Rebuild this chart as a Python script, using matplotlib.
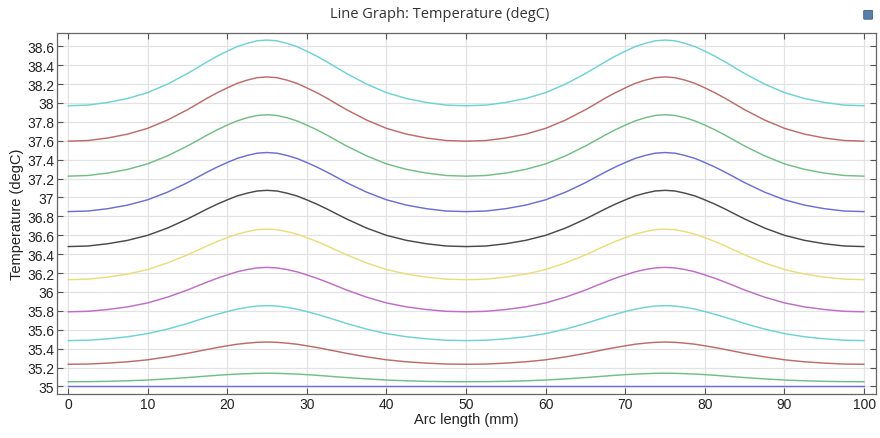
import matplotlib
matplotlib.use("Agg")
import matplotlib.pyplot as plt
from matplotlib.ticker import FuncFormatter, MultipleLocator
from matplotlib.patches import FancyBboxPatch

# Arc length positions (mm)
arc_length = [0, 2.5, 5, 7.5, 10, 12.5, 15, 16.25, 17.5, 18.75, 20, 21.25, 22.5, 23.75, 25,
              26.25, 27.5, 28.75, 30, 31.25, 32.5, 33.75, 35, 37.5, 40, 42.5, 45, 47.5, 50,
              52.5, 55, 57.5, 60, 62.5, 65, 66.25, 67.5, 68.75, 70, 71.25, 72.5, 73.75, 75,
              76.25, 77.5, 78.75, 80, 81.25, 82.5, 83.75, 85, 87.5, 90, 92.5, 95, 97.5, 100]

# Temperature profiles (degC), bottom to top
temp_1 = [35.000] * 57
temp_2 = [35.050, 35.051, 35.054, 35.060, 35.068, 35.080, 35.094, 35.102, 35.110, 35.118, 35.125, 35.131, 35.135, 35.139, 35.140,
          35.139, 35.135, 35.131, 35.125, 35.118, 35.110, 35.102, 35.094, 35.080, 35.068, 35.060, 35.054, 35.051, 35.050,
          35.051, 35.054, 35.060, 35.068, 35.080, 35.094, 35.102, 35.110, 35.118, 35.125, 35.131, 35.135, 35.139, 35.140,
          35.139, 35.135, 35.131, 35.125, 35.118, 35.110, 35.102, 35.094, 35.080, 35.068, 35.060, 35.054, 35.051, 35.050]
temp_3 = [35.235, 35.237, 35.247, 35.261, 35.282, 35.313, 35.350, 35.371, 35.392, 35.412, 35.430, 35.447, 35.458, 35.467, 35.470,
          35.467, 35.458, 35.447, 35.430, 35.412, 35.392, 35.371, 35.350, 35.313, 35.282, 35.261, 35.247, 35.237, 35.235,
          35.237, 35.247, 35.261, 35.282, 35.313, 35.350, 35.371, 35.392, 35.412, 35.430, 35.447, 35.458, 35.467, 35.470,
          35.467, 35.458, 35.447, 35.430, 35.412, 35.392, 35.371, 35.350, 35.313, 35.282, 35.261, 35.247, 35.237, 35.235]
temp_4 = [35.485, 35.489, 35.504, 35.526, 35.559, 35.607, 35.666, 35.700, 35.733, 35.764, 35.792, 35.818, 35.837, 35.851, 35.855,
          35.851, 35.837, 35.818, 35.792, 35.764, 35.733, 35.700, 35.666, 35.607, 35.559, 35.526, 35.504, 35.489, 35.485,
          35.489, 35.504, 35.526, 35.559, 35.607, 35.666, 35.700, 35.733, 35.764, 35.792, 35.818, 35.837, 35.851, 35.855,
          35.851, 35.837, 35.818, 35.792, 35.764, 35.733, 35.700, 35.666, 35.607, 35.559, 35.526, 35.504, 35.489, 35.485]
temp_5 = [35.790, 35.795, 35.814, 35.842, 35.884, 35.945, 36.020, 36.063, 36.105, 36.145, 36.180, 36.213, 36.237, 36.254, 36.260,
          36.254, 36.237, 36.213, 36.180, 36.145, 36.105, 36.063, 36.020, 35.945, 35.884, 35.842, 35.814, 35.795, 35.790,
          35.795, 35.814, 35.842, 35.884, 35.945, 36.020, 36.063, 36.105, 36.145, 36.180, 36.213, 36.237, 36.254, 36.260,
          36.254, 36.237, 36.213, 36.180, 36.145, 36.105, 36.063, 36.020, 35.945, 35.884, 35.842, 35.814, 35.795, 35.790]
temp_6 = [36.130, 36.135, 36.157, 36.189, 36.237, 36.307, 36.392, 36.440, 36.489, 36.534, 36.574, 36.612, 36.638, 36.659, 36.665,
          36.659, 36.638, 36.612, 36.574, 36.534, 36.489, 36.440, 36.392, 36.307, 36.237, 36.189, 36.157, 36.135, 36.130,
          36.135, 36.157, 36.189, 36.237, 36.307, 36.392, 36.440, 36.489, 36.534, 36.574, 36.612, 36.638, 36.659, 36.665,
          36.659, 36.638, 36.612, 36.574, 36.534, 36.489, 36.440, 36.392, 36.307, 36.237, 36.189, 36.157, 36.135, 36.130]
temp_7 = [36.480, 36.486, 36.510, 36.546, 36.599, 36.676, 36.772, 36.825, 36.879, 36.929, 36.974, 37.016, 37.045, 37.068, 37.075,
          37.068, 37.045, 37.016, 36.974, 36.929, 36.879, 36.825, 36.772, 36.676, 36.599, 36.546, 36.510, 36.486, 36.480,
          36.486, 36.510, 36.546, 36.599, 36.676, 36.772, 36.825, 36.879, 36.929, 36.974, 37.016, 37.045, 37.068, 37.075,
          37.068, 37.045, 37.016, 36.974, 36.929, 36.879, 36.825, 36.772, 36.676, 36.599, 36.546, 36.510, 36.486, 36.480]
temp_8 = [36.850, 36.856, 36.881, 36.919, 36.975, 37.056, 37.156, 37.213, 37.269, 37.322, 37.369, 37.413, 37.444, 37.468, 37.475,
          37.468, 37.444, 37.413, 37.369, 37.322, 37.269, 37.213, 37.156, 37.056, 36.975, 36.919, 36.881, 36.856, 36.850,
          36.856, 36.881, 36.919, 36.975, 37.056, 37.156, 37.213, 37.269, 37.322, 37.369, 37.413, 37.444, 37.468, 37.475,
          37.468, 37.444, 37.413, 37.369, 37.322, 37.269, 37.213, 37.156, 37.056, 36.975, 36.919, 36.881, 36.856, 36.850]
temp_9 = [37.225, 37.232, 37.258, 37.297, 37.355, 37.440, 37.544, 37.602, 37.661, 37.716, 37.765, 37.810, 37.843, 37.867, 37.875,
          37.867, 37.843, 37.810, 37.765, 37.716, 37.661, 37.602, 37.544, 37.440, 37.355, 37.297, 37.258, 37.232, 37.225,
          37.232, 37.258, 37.297, 37.355, 37.440, 37.544, 37.602, 37.661, 37.716, 37.765, 37.810, 37.843, 37.867, 37.875,
          37.867, 37.843, 37.810, 37.765, 37.716, 37.661, 37.602, 37.544, 37.440, 37.355, 37.297, 37.258, 37.232, 37.225]
temp_10 = [37.595, 37.602, 37.629, 37.670, 37.731, 37.819, 37.928, 37.989, 38.051, 38.108, 38.159, 38.207, 38.241, 38.267, 38.275,
           38.267, 38.241, 38.207, 38.159, 38.108, 38.051, 37.989, 37.928, 37.819, 37.731, 37.670, 37.629, 37.602, 37.595,
           37.602, 37.629, 37.670, 37.731, 37.819, 37.928, 37.989, 38.051, 38.108, 38.159, 38.207, 38.241, 38.267, 38.275,
           38.267, 38.241, 38.207, 38.159, 38.108, 38.051, 37.989, 37.928, 37.819, 37.731, 37.670, 37.629, 37.602, 37.595]
temp_11 = [37.970, 37.977, 38.005, 38.047, 38.109, 38.199, 38.311, 38.373, 38.436, 38.495, 38.547, 38.596, 38.630, 38.657, 38.665,
           38.657, 38.630, 38.596, 38.547, 38.495, 38.436, 38.373, 38.311, 38.199, 38.109, 38.047, 38.005, 37.977, 37.970,
           37.977, 38.005, 38.047, 38.109, 38.199, 38.311, 38.373, 38.436, 38.495, 38.547, 38.596, 38.630, 38.657, 38.665,
           38.657, 38.630, 38.596, 38.547, 38.495, 38.436, 38.373, 38.311, 38.199, 38.109, 38.047, 38.005, 37.977, 37.970]

series = [temp_1, temp_2, temp_3, temp_4, temp_5, temp_6,
          temp_7, temp_8, temp_9, temp_10, temp_11]

# Repeating colour cycle: blue, green, red, cyan, magenta, yellow, black
cycle = ["#6b6fd6", "#72bf86", "#bf6b6b", "#6fd3d3", "#c06cc8", "#e8df7a", "#4a4a4a"]

plt.rcParams["font.family"] = ["Liberation Sans", "DejaVu Sans"]

fig = plt.figure(figsize=(8.8, 4.39), dpi=100)
ax = fig.add_axes([0.0648, 0.1002, 0.9307, 0.8224])

for i, ys in enumerate(series):
    ax.plot(arc_length, ys, color=cycle[i % len(cycle)], lw=1.05,
            solid_joinstyle="round", solid_capstyle="round")

ax.set_xlim(-1.38, 101.5)
ax.set_ylim(34.92, 38.74)
ax.xaxis.set_major_locator(MultipleLocator(10))
ax.yaxis.set_major_locator(MultipleLocator(0.2))
ax.yaxis.set_major_formatter(FuncFormatter(lambda v, p: "%g" % round(v, 1)))

ax.grid(True, color="#e3e3e6", lw=0.9)
ax.set_axisbelow(True)
ax.tick_params(direction="in", length=4, width=0.8, color="#555555",
               top=True, right=True, labelsize=10, pad=2, labelcolor="#222222")
for s in ax.spines.values():
    s.set_color("#666666")
    s.set_linewidth(0.9)

ax.set_xlabel("Arc length (mm)", fontsize=10.5, labelpad=1, color="#222222")
ax.set_ylabel("Temperature (degC)", fontsize=10.5, labelpad=2, color="#222222")
fig.text(0.5, 0.967, "Line Graph: Temperature (degC)", ha="center", va="center",
         fontsize=10.5, color="#333333", family=["Open Sans", "DejaVu Sans"])

# small toolbar glyph in the upper-right corner
fig.patches.append(FancyBboxPatch((0.9825, 0.955), 0.008, 0.018,
                                  boxstyle="round,pad=0.001", transform=fig.transFigure,
                                  facecolor="#5a7fa8", edgecolor="#3d5f86", lw=0.6))

fig.savefig("out.png", dpi=100, facecolor="white")
